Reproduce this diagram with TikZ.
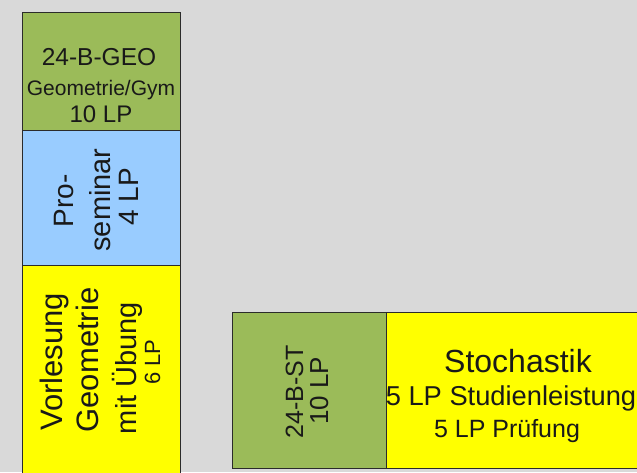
\documentclass[tikz,border=0pt]{standalone}
\usepackage{fontspec}
\setmainfont{Liberation Sans}
\definecolor{bggrey}{HTML}{D9D9D9}
\definecolor{modgreen}{HTML}{9BBB59}
\definecolor{semblue}{HTML}{99CCFF}
\definecolor{lecyellow}{HTML}{FFFF00}
\definecolor{edgecol}{HTML}{2B2B2B}
\tikzset{
  box/.style={draw=edgecol, line width=1.3pt, anchor=north west, inner sep=0pt},
  txt/.style={anchor=base, inner sep=0pt, text=black!90},
  vtxt/.style={txt, rotate=90},
}
\newcommand{\fs}[1]{\fontsize{#1}{#1}\selectfont}
\begin{document}
\begin{tikzpicture}[x=1pt,y=-1pt]
\fill[bggrey] (0,0) rectangle (637,472);
\useasboundingbox (0,0) rectangle (637,472);
% left column
\node[box, fill=modgreen, minimum width=158pt, minimum height=118pt] (geo) at (22,12) {};
\node[box, fill=semblue, minimum width=158pt, minimum height=135pt] (pros) at (22,130) {};
\node[box, fill=lecyellow, minimum width=158pt, minimum height=220pt] (vorl) at (22,265) {};
% bottom row
\node[box, fill=modgreen, minimum width=154pt, minimum height=156pt] (st) at (232,312) {};
\node[box, fill=lecyellow, minimum width=256pt, minimum height=156pt] (stoch) at (386,312) {};
% texts in 24-B-GEO
\node[txt] (geo1) at (99,65) {\fs{24.5}24-B-GEO};
\node[txt] (geo2) at (101,95) {\fs{21}Geometrie/Gym};
\node[txt] (geo3) at (101,122) {\fs{24}10 LP};
% Proseminar
\node[vtxt] (pro1) at (73,201) {\fs{28}Pro-};
\node[vtxt] (pro2) at (110,200) {\fs{29}seminar};
\node[vtxt] (pro3) at (138,197) {\fs{28}4 LP};
% Vorlesung
\node[vtxt] (vl1) at (62,362) {\fs{31}Vorlesung};
\node[vtxt] (vl2) at (98,360) {\fs{31}Geometrie};
\node[vtxt] (vl3) at (136,368) {\fs{29}mit Übung};
\node[vtxt] (vl4) at (160,362) {\fs{22}6 LP};
% 24-B-ST
\node[vtxt] (st1) at (303,392) {\fs{25}24-B-ST};
\node[vtxt] (st2) at (328,391) {\fs{26}10 LP};
% Stochastik
\node[txt] (sto1) at (518,372) {\fs{32}Stochastik};
\node[txt] (sto2) at (511,405) {\fs{27.3}5 LP Studienleistung};
\node[txt] (sto3) at (507,437) {\fs{25}5 LP Prüfung};
\end{tikzpicture}
\end{document}
